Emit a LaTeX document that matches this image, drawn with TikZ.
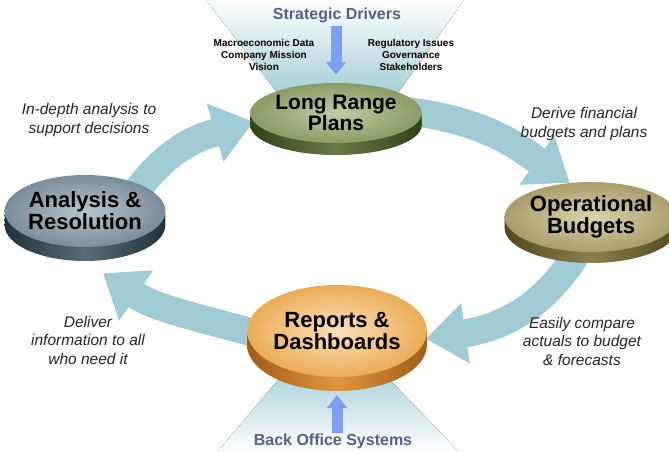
\documentclass[tikz,border=0pt]{standalone}
\usepackage{fontspec}
\setmainfont{Liberation Sans}
\usetikzlibrary{shapes.geometric,shadows,arrows.meta}

\pgfdeclarelayer{background}
\pgfsetlayers{background,main}

\definecolor{flowblue}{RGB}{160,203,212}
\definecolor{feedblue}{RGB}{128,158,246}
\definecolor{slate}{RGB}{84,98,134}
\definecolor{lrplight}{RGB}{192,203,164}
\definecolor{lrpface}{RGB}{138,155,102}
\definecolor{lrpside}{RGB}{50,66,28}
\definecolor{lrpmid}{RGB}{104,122,68}
\definecolor{oblight}{RGB}{220,210,174}
\definecolor{obface}{RGB}{170,156,108}
\definecolor{obside}{RGB}{84,72,32}
\definecolor{obmid}{RGB}{140,126,76}
\definecolor{arlight}{RGB}{184,197,205}
\definecolor{arface}{RGB}{120,141,154}
\definecolor{arside}{RGB}{32,50,62}
\definecolor{armid}{RGB}{88,108,120}
\definecolor{rdlight}{RGB}{250,224,186}
\definecolor{rdface}{RGB}{236,172,88}
\definecolor{rdside}{RGB}{160,92,26}
\definecolor{rdmid}{RGB}{222,150,62}

\begin{document}
\begin{tikzpicture}[x=1pt,y=1pt]

\tikzset{%
disk/.style n args={4}{
ellipse,
inner sep=0pt,
minimum width=#3,
minimum height=#4,
align=center,
inner color=#1light,
outer color=#1face,
general shadow={shadow yshift=-#2/3, left color=#1side, right color=#1side, middle color=#1mid},
general shadow={shadow yshift=-#2*2/3, left color=#1side, right color=#1side, middle color=#1mid},
general shadow={shadow yshift=-#2, left color=#1side, right color=#1side, middle color=#1mid}
},
disk label/.style={font=\fontsize{22}{22}\selectfont\bfseries},
flow/.style={
draw=flowblue,
line width=28pt,
shorten <=-14pt,
-{Triangle[length=40pt,width=58pt]}
},
feed/.style={
draw=feedblue,
line width=11pt,
-{Triangle[length=13pt,width=20pt]}
},
drivers/.style={font=\fontsize{16}{18}\selectfont\bfseries, text=slate},
inputs/.style={align=center, font=\fontsize{10}{12}\selectfont\bfseries},
note/.style={align=center, font=\fontsize{15.5}{18.5}\selectfont\itshape, text=black!85},
}

\useasboundingbox (0,0) rectangle (669,452);

% The four planning stages
\node [disk={lrp}{12pt}{146}{60}, disk label, font=\fontsize{21}{21}\selectfont\bfseries] (lrp) at (336,339) {Long Range\\Plans};
\node [disk={ob}{11pt}{152}{70}, disk label] (ob) at (591,235) {Operational\\Budgets};
\node [disk={rd}{14pt}{178}{92}, disk label] (rd) at (337,121) {Reports \&\\Dashboards};
\node [disk={ar}{14pt}{156}{72}, disk label] (ar) at (85,241) {Analysis \&\\Resolution};

% Drivers above and systems below
\node [drivers] (sd) at (337,437) {Strategic Drivers};
\node [drivers] (bo) at (333,11) {Back Office Systems};
\node [inputs] (macro) at (264,397) {Macroeconomic Data\\Company Mission\\Vision};
\node [inputs] (rules) at (411,397) {Regulatory Issues\\Governance\\Stakeholders};

\draw [feed, shorten >=8pt] (sd.south -| lrp.north) -- (lrp.north);
\draw [feed, shorten <=-3pt, shorten >=18pt] (bo.north -| rd.south) -- (rd.south);

% Notes beside the cycle
\foreach \pos/\txt [count=\i] in {
{(89,332)}/{In-depth analysis to\\support decisions},
{(584,328)}/{Derive financial\\budgets and plans},
{(88,112)}/{Deliver\\information to all\\who need it},
{(582,111)}/{Easily compare\\actuals to budget\\\& forecasts}}
\node [note] (note-\i) at \pos {\txt};

\begin{pgfonlayer}{background}
\fill [white] (0,0) rectangle (669,452);

% funnels
\fill [top color=white, bottom color=flowblue] (206,452) -- (464,452) -- (393,352) -- (283,352) -- cycle;
\fill [top color=flowblue, bottom color=white] (295,92) -- (371,92) -- (459,0) -- (217,0) -- cycle;

% cycle arrows
\draw [flow] (ar.25) to [out=55,in=196] (lrp.186);
\draw [flow] (lrp.east) to [out=-7,in=145] (ob.122);
\draw [flow] (ob.250) to [out=-118,in=8] (rd.-5);
\draw [flow] (rd.west) to [out=165,in=-34] ([xshift=18pt,yshift=-26pt]ar.south);
\end{pgfonlayer}

\end{tikzpicture}
\end{document}
